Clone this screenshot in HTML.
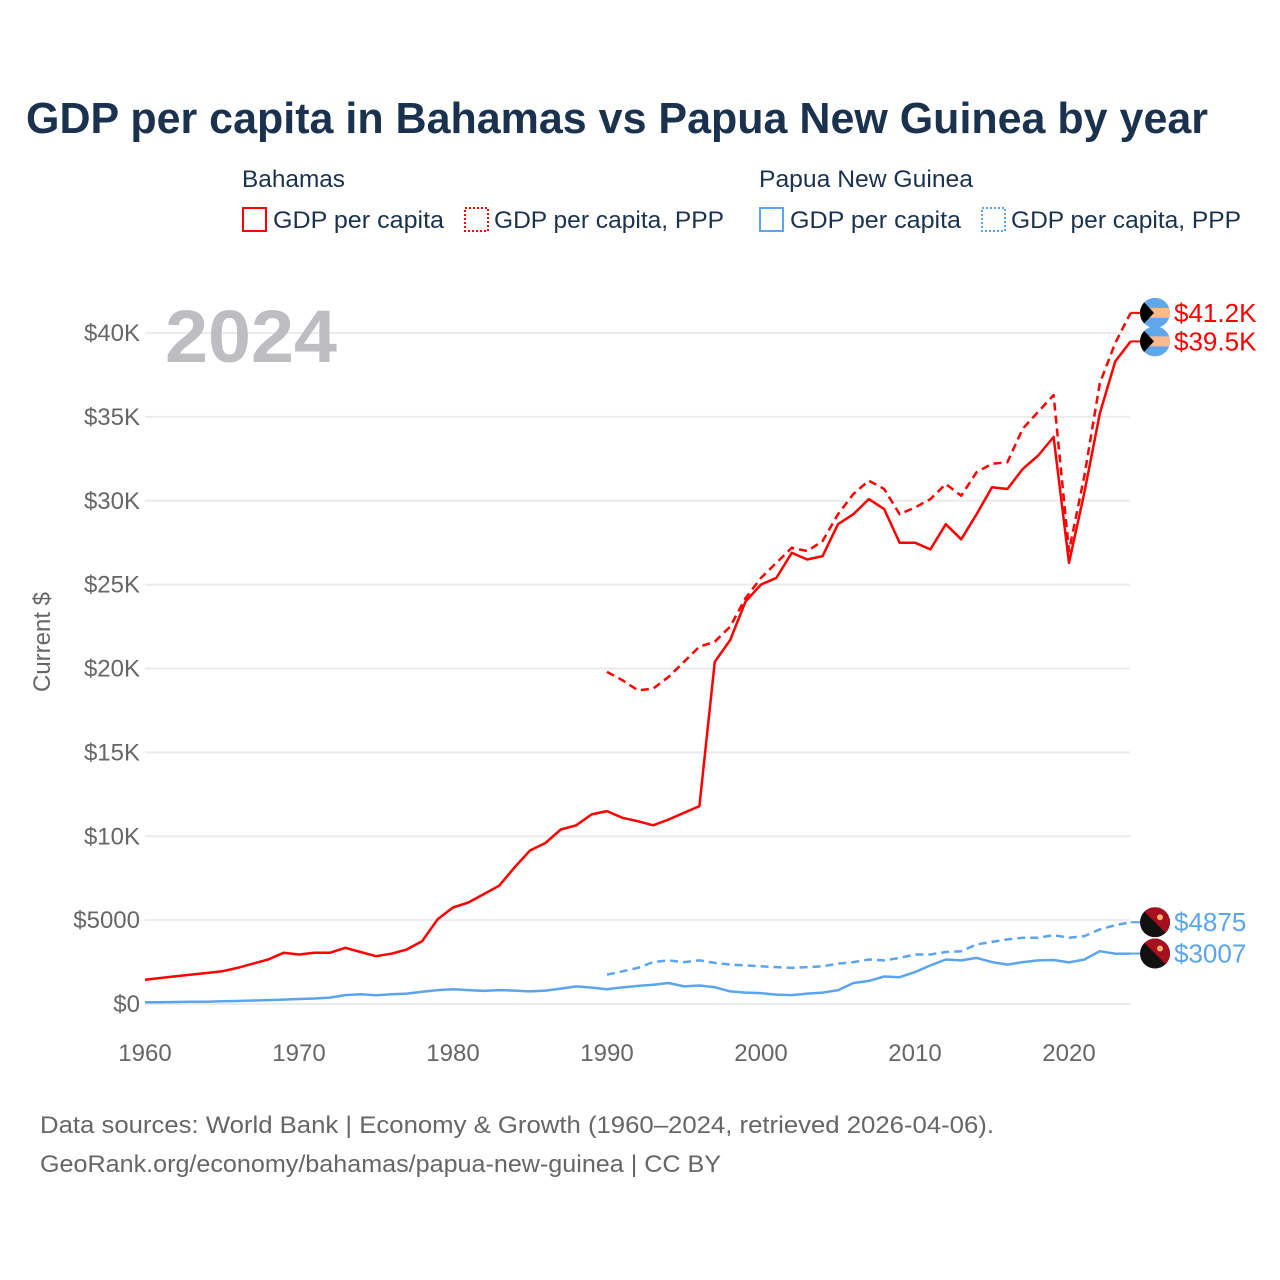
<!DOCTYPE html>
<html><head><meta charset="utf-8"><style>
html,body{margin:0;padding:0;background:#fff;}
svg{display:block;font-family:"Liberation Sans",sans-serif;}
</style></head><body>
<svg id="chart" width="1280" height="1280" viewBox="0 0 1280 1280">
<text x="26" y="133" font-size="44" font-weight="bold" fill="#1b324f" textLength="1182" lengthAdjust="spacingAndGlyphs">GDP per capita in Bahamas vs Papua New Guinea by year</text>
<g>
<text x="242" y="187" font-size="24" fill="#1b324f" textLength="103" lengthAdjust="spacingAndGlyphs">Bahamas</text>
<text x="759" y="187" font-size="24" fill="#1b324f" textLength="214" lengthAdjust="spacingAndGlyphs">Papua New Guinea</text>
<g><rect x="243" y="208" width="23" height="23" fill="none" stroke="#ff0000" stroke-width="2"/><text x="273" y="228" font-size="24" fill="#1b324f" textLength="171" lengthAdjust="spacingAndGlyphs">GDP per capita</text></g>
<g><rect x="465" y="208" width="23" height="23" fill="none" stroke="#ff0000" stroke-width="2" stroke-dasharray="2 2"/><text x="494" y="228" font-size="24" fill="#1b324f" textLength="230" lengthAdjust="spacingAndGlyphs">GDP per capita, PPP</text></g>
<g><rect x="760" y="208" width="23" height="23" fill="none" stroke="#5ba4ee" stroke-width="2"/><text x="790" y="228" font-size="24" fill="#1b324f" textLength="171" lengthAdjust="spacingAndGlyphs">GDP per capita</text></g>
<g><rect x="982" y="208" width="23" height="23" fill="none" stroke="#5ba4ee" stroke-width="2" stroke-dasharray="2 2"/><text x="1011" y="228" font-size="24" fill="#1b324f" textLength="230" lengthAdjust="spacingAndGlyphs">GDP per capita, PPP</text></g>
</g>
<defs id="defs"></defs>
<g id="grid"></g>
<text x="165" y="362" font-size="74" font-weight="bold" fill="#bdbdc2" textLength="172" lengthAdjust="spacingAndGlyphs">2024</text>
<text transform="translate(50,642) rotate(-90)" text-anchor="middle" font-size="24" fill="#666">Current $</text>
<g id="series"></g>
<g id="ends"></g>
<text x="40" y="1133" font-size="24" fill="#666" textLength="954" lengthAdjust="spacingAndGlyphs">Data sources: World Bank | Economy &amp; Growth (1960–2024, retrieved 2026-04-06).</text>
<text x="40" y="1172" font-size="24" fill="#666" textLength="681" lengthAdjust="spacingAndGlyphs">GeoRank.org/economy/bahamas/papua-new-guinea | CC BY</text>
</svg>
<script>
const bahGdp=[1450,1550,1650,1750,1850,1950,2150,2400,2650,3050,2950,3050,3050,3350,3100,2850,3000,3250,3750,5050,5750,6050,6550,7050,8150,9150,9600,10400,10650,11300,11500,11100,10900,10650,11000,11400,11800,20400,21700,24000,25000,25400,26900,26500,26700,28600,29200,30100,29500,27500,27500,27100,28600,27700,29200,30800,30700,31900,32700,33800,26300,30500,35200,38300,39500];
const bahPpp=[19800,19300,18700,18800,19500,20400,21300,21600,22500,24200,25400,26300,27200,27000,27600,29200,30400,31200,30700,29200,29600,30100,31000,30300,31700,32200,32300,34300,35300,36300,27000,31500,37000,39400,41200];
const pngGdp=[100,110,120,130,140,160,180,210,230,260,300,330,380,530,580,520,580,620,730,830,880,830,780,830,800,750,800,920,1050,980,880,990,1080,1150,1250,1050,1100,1000,750,680,650,560,530,620,680,820,1250,1380,1640,1600,1900,2300,2650,2600,2750,2500,2350,2500,2600,2620,2480,2650,3150,3000,3007];
const pngPpp=[1750,1950,2150,2500,2600,2500,2600,2450,2350,2300,2250,2200,2150,2200,2250,2400,2500,2650,2600,2750,2950,2950,3100,3150,3550,3700,3850,3950,3950,4100,3950,4050,4450,4700,4875];
const yTicks=[0,5000,10000,15000,20000,25000,30000,35000,40000];
const yTickLabels=["$0","$5000","$10K","$15K","$20K","$25K","$30K","$35K","$40K"];
const xTicks=[1960,1970,1980,1990,2000,2010,2020];
const endLabels=["$41.2K","$39.5K","$4875","$3007"];
const NS="http://www.w3.org/2000/svg";
const X=y=>145+(y-1960)*15.4;
const Y=v=>1004-v*671/40000;
function mk(t,a,p){const e=document.createElementNS(NS,t);for(const k in a)e.setAttribute(k,a[k]);p.appendChild(e);return e;}
const grid=document.getElementById('grid');
yTicks.forEach((v,i)=>{
 const l=mk('line',{x1:145,x2:1130,y1:Y(v),y2:Y(v),stroke:'#ebebeb','stroke-width':2},grid);
 
 
 const t=mk('text',{x:140,y:Y(v)+8,'text-anchor':'end','font-size':24,fill:'#666'},grid);
 t.textContent=yTickLabels[i];
 
 
});
xTicks.forEach(v=>{
 const t=mk('text',{x:X(v),y:1061,'text-anchor':'middle','font-size':24,fill:'#666'},grid);
 t.textContent=v;
 
 
});
const ser=document.getElementById('series');
function line(data,start,color,dash,name){
 const d=data.map((v,i)=>(i?'L':'M')+X(start+i).toFixed(1)+','+Y(v).toFixed(1)).join('');
 const p=mk('path',{d:d,fill:'none',stroke:color,'stroke-width':2.5,'stroke-linejoin':'round'},ser);
 if(dash)p.setAttribute('stroke-dasharray','8 5');
 
 
}
line(bahGdp,1960,'#ff0000',false,'bahamas-gdp-line');
line(bahPpp,1990,'#ff0000',true,'bahamas-ppp-line');
line(pngGdp,1960,'#5ba4ee',false,'png-gdp-line');
line(pngPpp,1990,'#5ba4ee',true,'png-ppp-line');
const ends=document.getElementById('ends');
const defs=document.getElementById('defs');
const endVals=[bahPpp[bahPpp.length-1],bahGdp[bahGdp.length-1],pngPpp[pngPpp.length-1],pngGdp[pngGdp.length-1]];
const endCols=['#ff0000','#ff0000','#5ba4ee','#5ba4ee'];
endVals.forEach((v,i)=>{
 const cy=Y(v),cx=1155;
 const cp=mk('clipPath',{id:'fc'+i},defs);
 mk('circle',{cx:cx,cy:cy,r:15},cp);
 mk('line',{x1:X(2024),x2:cx-14,y1:cy,y2:cy,stroke:endCols[i],'stroke-width':2},ends);
 const g=mk('g',{'clip-path':'url(#fc'+i+')'},ends);
 
 
 if(i<2){
  mk('rect',{x:cx-15,y:cy-15,width:30,height:30,fill:'#5fa6ea'},g);
  mk('rect',{x:cx-15,y:cy-5,width:30,height:10,fill:'#fdb98f'},g);
  mk('path',{d:`M${cx-15},${cy-15}L${cx-1},${cy}L${cx-15},${cy+15}Z`,fill:'#000'},g);
 }else{
  mk('rect',{x:cx-15,y:cy-15,width:30,height:30,fill:'#111'},g);
  mk('path',{d:`M${cx-15},${cy-15}L${cx+15},${cy-15}L${cx+15},${cy+15}Z`,fill:'#a50f1e'},g);
  mk('circle',{cx:cx+5,cy:cy-5,r:3,fill:'#f3b070'},g);
 }
 const t=mk('text',{x:1174,y:cy+9,'font-size':26,fill:endCols[i]},ends);
 t.textContent=endLabels[i];
 
 
});
</script>
</body></html>
